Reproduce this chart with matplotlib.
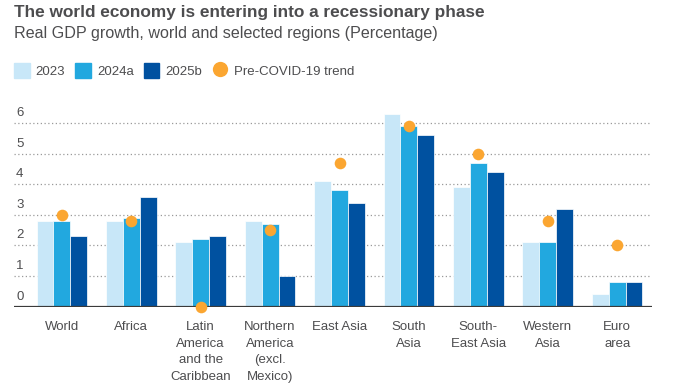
import matplotlib
matplotlib.use("Agg")
import matplotlib.pyplot as plt
import numpy as np
from matplotlib.patches import Patch
from matplotlib.lines import Line2D

regions = ["World", "Africa", "Latin\nAmerica\nand the\nCaribbean",
           "Northern\nAmerica\n(excl.\nMexico)", "East Asia", "South\nAsia",
           "South-\nEast Asia", "Western\nAsia", "Euro\narea"]
gdp_2023 = [2.8, 2.8, 2.1, 2.8, 4.1, 6.3, 3.9, 2.1, 0.4]
gdp_2024a = [2.8, 2.9, 2.2, 2.7, 3.8, 5.9, 4.7, 2.1, 0.8]
gdp_2025b = [2.3, 3.6, 2.3, 1.0, 3.4, 5.6, 4.4, 3.2, 0.8]
pre_covid = [3.0, 2.8, 0.0, 2.5, 4.7, 5.9, 5.0, 2.8, 2.0]
series_labels = ["2023", "2024a", "2025b", "Pre-COVID-19 trend"]
y_ticks = [0, 1, 2, 3, 4, 5, 6]

C_2023 = "#c8e7f8"
C_2024 = "#22a8df"
C_2025 = "#0051a0"
C_DOT = "#fba631"
TXT = "#4d4d4f"
SANS = ["Liberation Sans", "DejaVu Sans"]

fig = plt.figure(figsize=(6.8, 3.89), dpi=100)
ax = fig.add_axes([0.0206, 0.2116, 0.938, 0.5193])

x = np.arange(len(regions))
w = 0.243
for off, vals, col in [(-w, gdp_2023, C_2023), (0, gdp_2024a, C_2024), (w, gdp_2025b, C_2025)]:
    ax.bar(x + off, vals, width=w, color=col, edgecolor="white", linewidth=0.5, zorder=2)
ax.scatter(x, pre_covid, s=70, color=C_DOT, zorder=4, clip_on=False, linewidths=0)

ax.set_xlim(-0.69, 8.5)
ax.set_ylim(0, 6.6)

for v in y_ticks[1:]:
    ax.axhline(v, color="#9a9a9a", linestyle=(0, (1, 2)), linewidth=0.9, zorder=1)
ax.axhline(0, color="#3a3a3a", linewidth=1.6, zorder=3)

for v in y_ticks:
    ax.annotate(str(v), xy=(0, v), xycoords=ax.get_yaxis_transform(),
                xytext=(2, 10), textcoords="offset pixels", va="center", ha="left",
                fontsize=9.5, color=TXT, family=SANS)

ax.set_yticks([])
ax.set_xticks(x, labels=regions)
ax.tick_params(axis="x", length=0, pad=10)
for lbl in ax.get_xticklabels():
    lbl.set_fontfamily(SANS)
    lbl.set_fontsize(9.5)
    lbl.set_color(TXT)
    lbl.set_linespacing(1.55)
for s in ax.spines.values():
    s.set_visible(False)

fig.text(0.0206, 0.968, "The world economy is entering into a recessionary phase",
         fontsize=12.4, fontweight="bold", color=TXT, family=SANS, va="center")
fig.text(0.0206, 0.913, "Real GDP growth, world and selected regions (Percentage)",
         fontsize=11.6, color=TXT, family=SANS, va="center")

handles = [Patch(color=C_2023), Patch(color=C_2024), Patch(color=C_2025),
           Line2D([], [], marker="o", linestyle="none", markersize=11,
                  markerfacecolor=C_DOT, markeredgewidth=0)]
leg = fig.legend(handles, series_labels, ncol=4, frameon=False, loc="center left",
                 bbox_to_anchor=(0.0206, 0.818), borderaxespad=0, borderpad=0,
                 handlelength=1.2, handleheight=1.3,
                 handletextpad=0.45, columnspacing=0.75,
                 prop={"family": SANS, "size": 9.5})
for t in leg.get_texts():
    t.set_color(TXT)

fig.savefig("out.png", dpi=100)
